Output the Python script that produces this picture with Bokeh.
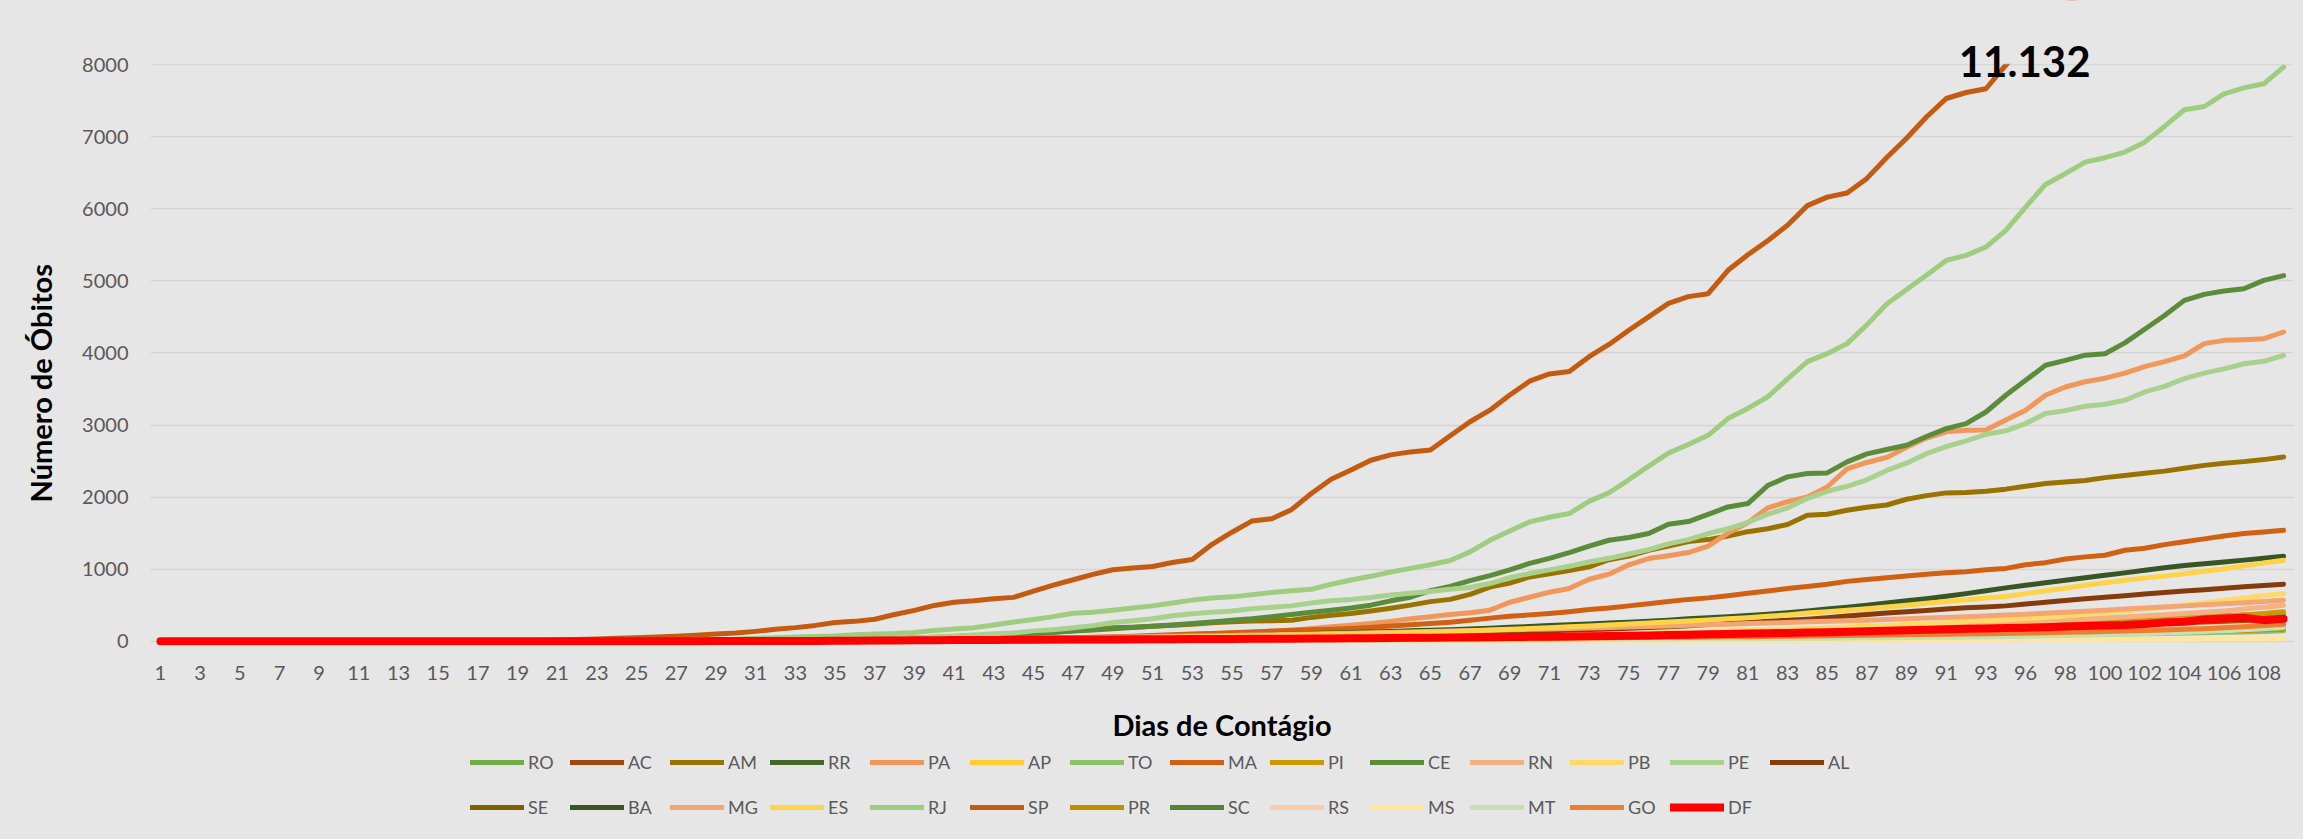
import math
from bokeh.plotting import figure
from bokeh.layouts import column, row
from bokeh.models import Range1d, FixedTicker, Legend, LegendItem, Label, BoxAnnotation
from bokeh.embed import file_html
from bokeh.resources import INLINE

# ---------------- data ----------------
days = list(range(1, 95)) + list(range(96, 110))   # category labels (one day missing)
y_ticks = [0, 1000, 2000, 3000, 4000, 5000, 6000, 7000, 8000]
y_max = 8000

RO = [0]*30 + [1,1,1,2,2,2,2,3,3,3, 4,4,5,5,6,7,8,9,10,11, 12,13,14,15,16,17,18,19,21,23,
               25,27,29,31,33,36,39,42,45,48, 52,56,60,64,68,72,77,82,87,92,
               98,104,110,117,124,131,138,146,154,162, 170,178,186,195,210,225,240,255,270,285,
               300,315,330,345,355,365,372,380]
AC = [0]*36 + [1,1,2,2, 3,3,4,5,6,7,8,9,10,11, 12,13,14,15,16,17,18,19,20,22,
               24,26,28,30,32,34,36,38,40,43, 46,49,52,55,58,62,66,70,74,78,
               82,86,90,95,100,105,110,115,120,125, 130,135,140,145,152,160,168,176,184,192,
               200,208,216,224,232,240,248,255]
AM = [0]*24 + [1,1,1,3,3,3,3,7,8,12,15,19,23,30,40,50,53,62,71,90,106,124,145,161,185,193,207,221,234,255,270,280,285] + \
     [290,330,360,384,420,458,500,549,580,650,751,806,892,935,982,1031,1130,1180,1260,1320,1384,1410,1460,1520,1560,
      1620,1748,1762,1817,1860,1890,1970,2020,2058,2062,2080,2110,2150,2187,2210,2230,2270,2300,2330,2360,2400,2440,2470,2492,2520,2557]
RR = [0]*39 + [1, 1,2,2,3,3,4,4,5,6,7, 8,9,10,11,12,13,14,15,16,17,
               18,20,22,24,26,28,31,34,37,40, 43,46,50,54,58,62,66,70,74,78,
               82,86,90,94,98,102,106,110,115,120, 125,130,135,140,146,152,158,164,170,176,
               182,188,194,200,208,215,222,230]
PA = [0]*32 + [1,2,2,3,5,6,8,10,13,15,17,19,23,27,35,42,52,60,70,80,92,104,115,125,140] + \
     [150,175,200,222,245,275,310,340,370,395,430,540,610,680,731,860,930,1060,1147,1185,1230,1320,1500,1642,1850,
      1935,2002,2140,2390,2480,2550,2690,2820,2905,2927,2930,3070,3204,3413,3528,3600,3650,3720,3810,3880,3960,4130,4175,4185,4198,4291]
AP = [0]*37 + [1,1,2, 2,3,4,5,6,7,8,9,10,12, 14,16,18,20,22,24,26,28,30,33,
               36,39,42,45,48,52,56,60,64,68, 72,76,80,85,90,95,100,105,110,116,
               122,128,134,140,146,152,158,164,170,177, 184,191,198,205,213,221,229,237,245,253,
               261,269,277,285,293,301,310,320]
TO = [0]*41 + [1,1,1,2,2,2,3,3,3, 4,4,5,5,6,6,7,8,9,10, 11,12,13,14,15,16,17,18,19,20,
               22,24,26,28,30,32,34,36,38,40, 42,44,46,48,50,53,56,59,62,65,
               68,71,74,77,80,84,88,92,96,100, 104,108,113,118,123,128,135,143]
MA = [0]*30 + [1,1,2,3,4,5,7,9,11,14,17,20,24,29,35,41,47,54,62,70,78,88,98,108,117,127,138] + \
     [150,158,165,176,190,210,228,245,262,290,320,345,365,385,410,440,460,490,520,550,580,601,630,665,695,
      730,760,790,830,855,880,905,930,950,965,990,1010,1060,1090,1140,1170,1193,1262,1290,1340,1380,1420,1460,1494,1515,1540]
PI = [0]*34 + [1,2,3,4,4,5, 5,6,7,8,8,9,10,11,12,13, 14,15,16,18,20,22,24,26,28,30,
               32,34,36,38,40,43,46,49,52,56, 60,64,68,72,76,80,85,90,95,100,
               106,112,118,125,132,140,148,156,165,174, 183,192,202,212,224,236,248,260,272,285,
               298,311,324,337,350,365,385,407]
CE = [0]*26 + [3,4,5,7,8,10,14,18,21,24,30,37,43,53,65,74,83,94,108,124,140,156,171,189,207,226,246,266,289,310,340] + \
     [370,400,430,460,500,560,610,700,760,840,910,990,1080,1150,1230,1320,1401,1438,1494,1623,1660,1760,1863,1910,2160,
      2280,2326,2335,2488,2600,2660,2720,2840,2950,3020,3181,3413] + \
     [3620,3829,3898,3970,3990,4140,4330,4520,4730,4813,4859,4892,5008,5073]
RN = [0]*30 + [1,1,2,2,3,4,4,5,6,7, 8,9,10,11,12,13,14,15,16,18, 20,22,24,26,28,30,32,34,36,38,
               40,43,46,50,54,58,62,66,70,75, 80,85,90,96,102,108,114,120,127,134,
               141,148,156,164,172,180,189,198,207,216, 226,236,246,256,268,280,294,308,322,336,
               352,368,384,400,420,445,470,499]
PB = [0]*33 + [1,1,2,2,3,4,5, 6,7,8,9,10,12,14,16,18,20, 22,24,26,28,30,32,34,36,38,40,
               42,45,48,51,55,59,63,67,72,77, 82,87,93,99,105,112,119,126,134,142,
               150,158,167,176,186,196,207,218,230,242, 255,268,282,296,312,330,350,372,395,420,
               445,472,500,530,565,600,630,661]
PE = [0]*25 + [1,2,3,5,6,6,9,14,16,21,25,30,34,46,56,72,85,102,115,143,160,186,216,260,282,312,352,380,400,420,450,470] + \
     [490,530,560,578,605,640,665,690,720,745,800,880,939,990,1040,1100,1150,1210,1270,1350,1410,1494,1560,1650,1760,
      1850,1980,2080,2150,2240,2370,2470,2603,2700,2780,2870,2920,3020,3160,3200,3260,3288,3343,3459,3537,3644,3720,3780,3850,3884,3967]
AL = [0]*32 + [1,1,2,3,3,4,5,5,6,7,9,10,12,14,16,18,21,24,28,32,36,41,46,52,58] + \
     [65,70,75,80,86,92,98,104,110,117,124,131,138,146,154,162,170,180,190,200,215,230,245,260,275,
      290,305,325,350,370,390,410,425,445,465,476,490,515,540,565,590,610,630,655,675,695,715,735,755,773,791]
SE = [0]*38 + [1,1, 2,2,3,3,4,4,5,6,7,8, 9,10,11,12,13,14,15,16,18,20,
               22,24,26,28,30,32,35,38,41,44, 47,50,54,58,62,66,70,75,80,85,
               90,95,100,106,112,118,124,130,137,144, 151,158,166,174,183,192,201,210,220,230,
               240,250,262,274,286,300,315,330]
BA = [0]*29 + [1,1,2,3,3,4,4,5,7,9,10,12,14,17,21,26,32,37,41,46,51,56,60,65,70,75,82,90] + \
     [100,105,112,120,128,136,145,152,160,170,180,192,204,216,228,240,252,264,276,290,310,325,340,355,375,
      395,420,445,470,500,530,560,590,625,660,700,740,775,810,846,880,915,948,985,1020,1050,1075,1100,1125,1150,1179]
MG = [0]*20 + [1,1,1,1,2,2,3,4,5,6, 7,8,9,11,13,15,17,19,21,24, 27,30,33,36,40,44,48,52,56,60,
               64,68,72,76,80,85,90,95,100,105, 110,116,122,128,134,140,146,152,158,164,
               170,177,184,191,198,205,212,220,228,236, 244,252,260,268,276,284,292,300,310,320,
               330,340,350,362,375,388,400,415,430,445, 460,475,490,505,520,535,552,569]
ES = [0]*32 + [1,2,2,3,4,5,6,8,10,12,15,18,21,25,29,33,38,43,48,53,58,63,68,73,80] + \
     [85,90,95,100,106,112,120,128,136,145,155,165,176,188,200,212,225,238,252,266,280,295,310,325,345,
      365,390,410,430,450,475,500,525,550,575,600,620,660,700,735,775,810,846,875,905,935,970,1005,1045,1085,1124]
RJ = [0]*19 + [2,3,4,6,9,10,13,17,18,23,28,41,47] + \
     [58,64,71,89,99,106,122,147,170,188,224,265,300,341,387,402,430,461,490,530,570,600,615,645,677] + \
     [700,720,790,850,900,960,1010,1060,1120,1240,1400,1530,1655,1720,1771,1940,2060,2240,2430,2610,2730,2857,3090,3230,3390,
      3640,3880,3990,4130,4390,4680,4880,5080] + \
     [5285,5354,5470,5701,6024,6339,6488,6649,6710,6788,6926,7144,7376,7421,7597,7680,7736,7967]
SP = [0]*17 + [1,4,9,15,22,30,40,48,58,68,84,98,113,136,164,
               188,219,260,275,304,371,428,496,540,560,588,608,695,778,853,928,991,1015,1037,1093,1134,1345,1512,1667,1700,1825,2049,2247,2375,2511,
               2586,2627,2654,2851,3045,3206,3416,3608,3709,3743,3949,4118,4315,4501,4688,4782,4823,5147,5363,5558,5773,6045,6163,6220,6423,6712,6980,7275,7532,7615,7667,
               7994,8276,8561,8822,9032,9162,9188,9522,9862,10145,10368,10581,10767,10994,11132]
PR = [0]*26 + [1,1,2,2, 3,3,4,4,5,6,7,8,9,10, 11,12,13,14,15,16,17,18,19,20,
               21,22,23,24,25,26,27,28,29,30, 31,32,33,34,35,36,37,38,39,40,
               42,44,46,48,50,52,54,56,58,60, 62,64,66,68,70,72,74,76,78,80,
               83,86,89,92,96,100,104,108,112,116, 120,125,130,136,142,149,157,165]
SC = [0]*27 + [1,1,2, 3,4,5,6,7,8,9,10,11,12, 13,14,15,16,17,18,19,20,21,22,
               23,24,25,26,27,28,29,30,31,32, 33,34,35,36,38,40,42,44,46,48,
               50,52,54,56,58,60,62,64,66,68, 70,72,74,77,80,83,86,89,92,95,
               98,101,104,108,112,116,120,125,130,135, 140,146,152,159,166,174,184,194]
RS = [0]*26 + [1,1,2,2, 3,3,4,4,5,5,6,7,8,9, 10,11,12,13,14,15,16,17,18,19,
               20,21,22,23,24,25,26,27,28,29, 30,32,34,36,38,40,42,44,46,48,
               50,53,56,59,62,65,68,71,74,77, 80,83,86,89,92,96,100,104,108,112,
               116,120,125,130,135,141,147,153,159,166, 173,180,189,198,208,219,234,250]
MS = [0]*35 + [1,1,1,1,1, 2,2,2,3,3,3,4,4,4,5, 5,5,6,6,6,7,7,7,8,8,
               8,9,9,9,10,10,10,11,11,11, 12,12,12,13,13,13,14,14,14,15,
               15,15,16,16,17,17,18,18,19,19, 20,20,21,21,22,22,23,24,25,26,
               27,27,28,29,29,30,31,32]
MT = [0]*37 + [1,1,2, 2,3,3,4,4,5,5,6,6,7, 7,8,8,9,9,10,11,12,13,14,
               15,16,17,18,19,20,21,22,23,24, 25,26,27,28,29,30,31,32,33,34,
               35,36,38,40,42,44,46,48,50,53, 56,59,62,66,70,75,80,86,92,99,
               107,115,124,134,146,159,174,190]
GO = [0]*26 + [1,1,1,2, 2,3,3,4,5,6,7,8,9,10, 11,12,13,14,15,16,17,18,19,20,
               21,22,23,24,25,26,27,28,29,30, 31,32,33,34,35,36,37,38,39,40,
               42,44,46,48,50,52,54,56,58,60, 63,66,69,72,75,78,81,84,88,92,
               96,100,104,108,113,118,123,128,134,140, 147,155,164,174,186,200,217,236]
DF = [0]*28 + [1,1,2,3, 3,4,5,7,8,10,12,13,15,16, 18,20,21,22,23,24,25,26,27,28,
               29,30,31,32,33,35,36,38,40,42, 44,46,48,50,52,55,57,60,62,65,
               68,71,75,80,85,90,95,100,105,110, 115,120,125,130,138,145,152,160,165,172,
               177,182,188,195,205,210,218,225,240,258, 270,300,315,325,292,312]

states = ["RO","AC","AM","RR","PA","AP","TO","MA","PI","CE","RN","PB","PE","AL",
          "SE","BA","MG","ES","RJ","SP","PR","SC","RS","MS","MT","GO","DF"]
values = {"RO":RO,"AC":AC,"AM":AM,"RR":RR,"PA":PA,"AP":AP,"TO":TO,"MA":MA,"PI":PI,"CE":CE,
          "RN":RN,"PB":PB,"PE":PE,"AL":AL,"SE":SE,"BA":BA,"MG":MG,"ES":ES,"RJ":RJ,"SP":SP,
          "PR":PR,"SC":SC,"RS":RS,"MS":MS,"MT":MT,"GO":GO,"DF":DF}

# ---------------- styles ----------------
colors = {"RO":"#70AD47","AC":"#9E480E","AM":"#997300","RR":"#43682B","PA":"#F1975A",
          "AP":"#FFCD33","TO":"#8CC168","MA":"#D26012","PI":"#CC9A00","CE":"#5B8C3A",
          "RN":"#F4B183","PB":"#FFD966","PE":"#A9D18E","AL":"#843C0C","SE":"#7F6000",
          "BA":"#375623","MG":"#F3A573","ES":"#FFD347","RJ":"#9FCD7F","SP":"#C55A11",
          "PR":"#BF8F00","SC":"#548235","RS":"#F8CBAD","MS":"#FFE699","MT":"#C5E0B4",
          "GO":"#ED7D31","DF":"#FF0000"}
widths = {s: (8 if s == "DF" else 5) for s in states}
BG = "#E7E6E6"
GRID = "#D5D4D4"
TXT = "#595959"
FONT = "Lato"

n = len(days)
for s in states:
    if len(values[s]) != n:
        raise SystemExit(f"{s} has {len(values[s])} values, expected {n}")
xs = list(range(n))

W, H = 2303, 839
W_YT = 60          # strip holding the vertical axis title
H_MAIN = 750       # plot + x axis
H_LEG = H - H_MAIN # legend strip

def blank(fig):
    for g in fig.grid:
        g.visible = False

# frame runs from the top of the page to just below 0 (8000 sits 64 px below the top)
y_range = Range1d(-60, 8892)

# ---------- main plot ----------
p = figure(width=W - W_YT, height=H_MAIN, output_backend="svg", toolbar_location=None,
           x_range=Range1d(-0.5, n - 0.5), y_range=y_range,
           min_border_left=150 - W_YT, min_border_right=10, min_border_top=0,
           min_border_bottom=H_MAIN - 645,
           background_fill_color=BG, border_fill_color=BG, outline_line_color=None)

p.xaxis.ticker = FixedTicker(ticks=list(range(0, n, 2)))
p.xaxis.major_label_overrides = {i: str(days[i]) for i in range(0, n, 2)}
p.yaxis.ticker = FixedTicker(ticks=y_ticks)
for ax in (p.xaxis, p.yaxis):
    ax.axis_line_color = None
    ax.major_tick_line_color = None
    ax.minor_tick_line_color = None
    ax.major_tick_out = 0
    ax.major_tick_in = 0
    ax.major_label_text_font = FONT
    ax.major_label_text_font_size = "20px"
    ax.major_label_text_color = TXT
p.yaxis.major_label_standoff = 22
p.xaxis.major_label_standoff = 20
p.xaxis.axis_label = "Dias de Contágio"
p.xaxis.axis_label_text_font = FONT
p.xaxis.axis_label_text_font_style = "bold"
p.xaxis.axis_label_text_font_size = "29px"
p.xaxis.axis_label_text_color = "#000000"
p.xaxis.axis_label_standoff = 24

p.xgrid.visible = False
p.ygrid.ticker = FixedTicker(ticks=y_ticks)
p.ygrid.grid_line_color = GRID
p.ygrid.grid_line_width = 1.6

for s in states:
    p.line(xs, values[s], line_color=colors[s], line_width=widths[s],
           line_cap="round", line_join="round")

# the value axis stops at 8000: hide whatever lies above it (as the original clips it)
p.add_layout(BoxAnnotation(bottom=y_max + 14, top=100000, left=-1000, right=1000,
                           fill_color=BG, fill_alpha=1.0, line_color=BG, line_width=2))

# value callout for SP (last value, Brazilian thousands separator)
sp_txt = f"{SP[-1]:,}".replace(",", ".")
p.add_layout(Label(x=93.95, y=y_max, y_offset=3, text=sp_txt, text_align="center",
                   text_baseline="alphabetic", text_font=FONT, text_font_style="bold",
                   text_font_size="42px", text_color="#000000"))

# ---------- y-axis title strip (frame is aligned with the main plot's frame) ----------
p_yt = figure(width=W_YT, height=H_MAIN, output_backend="svg", toolbar_location=None,
              x_range=Range1d(0, W_YT), y_range=y_range,
              x_axis_location=None, y_axis_location=None, min_border=0,
              background_fill_color=BG, border_fill_color=BG, outline_line_color=None)
blank(p_yt)
p_yt.add_layout(Label(x=40, y=3580, text="Número de Óbitos", angle=math.pi / 2,
                      text_align="center", text_baseline="middle", text_font=FONT,
                      text_font_style="bold", text_font_size="29px", text_color="#000000"))

# ---------- legend strip ----------
p_leg = figure(width=W, height=H_LEG, output_backend="svg", toolbar_location=None,
               x_range=Range1d(0, W), y_range=Range1d(0, H_LEG),
               x_axis_location=None, y_axis_location=None, min_border=0,
               background_fill_color=BG, border_fill_color=BG, outline_line_color=None)
blank(p_leg)
leg_r = {}
for s in states:
    # legend keys: same colour / width as the series; the stub lies outside the visible strip
    leg_r[s] = p_leg.line(x=[-40, -20], y=[-40, -40], line_color=colors[s],
                          line_width=widths[s], line_cap="round")

common = dict(orientation="horizontal", glyph_width=54, glyph_height=20, nrows=1,
              label_width=38, label_height=20, label_standoff=4, spacing=4,
              padding=0, margin=0, background_fill_alpha=0, border_line_alpha=0,
              label_text_font=FONT, label_text_font_size="18px", label_text_color=TXT)
row1, row2 = states[:14], states[14:]
y_row1 = H - 763   # row centres measured from the bottom of the page
y_row2 = H - 808
leg1 = Legend(items=[LegendItem(label=s, renderers=[leg_r[s]]) for s in row1],
              location=(470, y_row1 - 10), ncols=len(row1), **common)
leg2 = Legend(items=[LegendItem(label=s, renderers=[leg_r[s]]) for s in row2],
              location=(470, y_row2 - 10), ncols=len(row2), **common)
p_leg.add_layout(leg1)
p_leg.add_layout(leg2)

layout = column(row(p_yt, p, spacing=0, styles={"background-color": BG}), p_leg, spacing=0,
                styles={"background-color": BG})

open("out.html", "w").write(file_html(layout, INLINE))
